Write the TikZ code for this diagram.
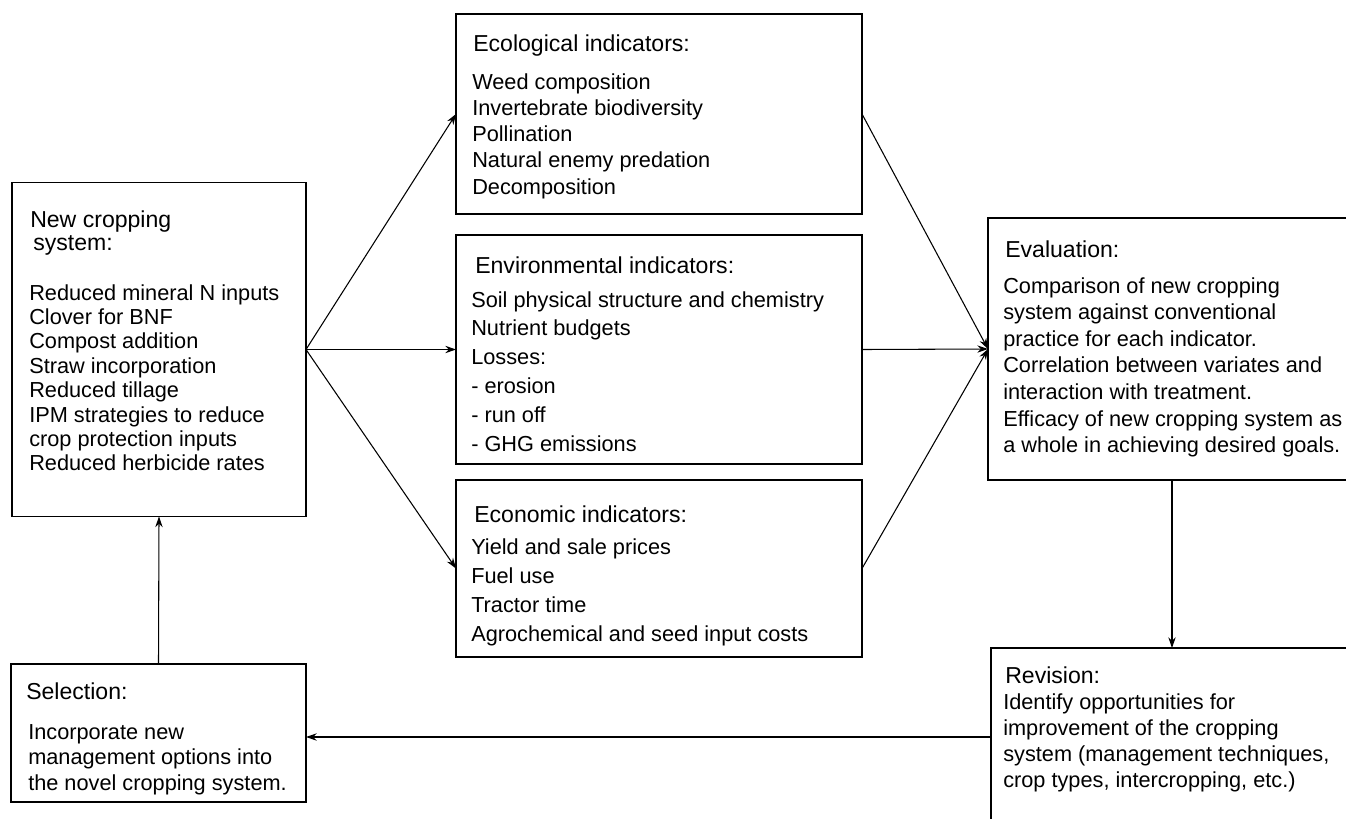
\documentclass[tikz,border=0pt]{standalone}
\usepackage{fontspec}
\setmainfont{Liberation Sans}
\usetikzlibrary{arrows.meta}
\tikzset{
  box/.style={draw, line width=1.2pt, inner sep=0pt, outer sep=0pt, rectangle},
  ttl/.style={font=\fontsize{17.3}{20}\selectfont, inner sep=0pt, anchor=base west},
  bdy/.style={font=\fontsize{16.3}{19}\selectfont, inner sep=0pt, anchor=base west},
  arr/.style={-{Stealth[length=8pt,width=5.5pt]}, line width=0.8pt},
}
\begin{document}
\begin{tikzpicture}[x=0.75pt,y=-0.75pt]
\useasboundingbox (0,0) rectangle (1346,818);
\clip (0,0) rectangle (1346,818);

% boxes
\node[box, minimum width=220.5pt, minimum height=250.5pt] (new) at (159,349.5) {};
\node[box, minimum width=304.5pt, minimum height=150pt] (eco) at (659,114) {};
\node[box, minimum width=304.5pt, minimum height=171.75pt] (env) at (659,349.5) {};
\node[box, minimum width=304.5pt, minimum height=132.75pt] (econ) at (659,568.5) {};
\node[box, minimum width=276pt, minimum height=196.5pt] (eval) at (1172,349) {};
\node[box, minimum width=271.5pt, minimum height=133.5pt] (rev) at (1172,737) {};
\node[box, minimum width=221.25pt, minimum height=103.5pt] (sel) at (158.5,733) {};

% New cropping system
\node[ttl] (newT1) at (30,227) {New cropping};
\node[ttl] (newT2) at (33,250) {system:};
\foreach \t [count=\i] in {Reduced mineral N inputs, Clover for BNF, Compost addition,
  Straw incorporation, Reduced tillage, IPM strategies to reduce,
  crop protection inputs, Reduced herbicide rates}
  \node[bdy] (new-\i) at (29,{300+(\i-1)*24.4}) {\t};

% Ecological
\node[ttl] (ecoT) at (473,51) {Ecological indicators:};
\foreach \t [count=\i] in {Weed composition, Invertebrate biodiversity, Pollination,
  Natural enemy predation, Decomposition}
  \node[bdy] (eco-\i) at (472,{89+(\i-1)*26.25}) {\t};

% Environmental
\node[ttl] (envT) at (475,273) {Environmental indicators:};
\foreach \t [count=\i] in {Soil physical structure and chemistry, Nutrient budgets, Losses:,
  - erosion, - run off, - GHG emissions}
  \node[bdy] (env-\i) at (471,{307+(\i-1)*28.8}) {\t};

% Economic
\node[ttl] (econT) at (474,522) {Economic indicators:};
\foreach \t [count=\i] in {Yield and sale prices, Fuel use, Tractor time,
  Agrochemical and seed input costs}
  \node[bdy] (econ-\i) at (471,{554+(\i-1)*29}) {\t};

% Evaluation
\node[ttl] (evalT) at (1005,257) {Evaluation:};
\foreach \t [count=\i] in {Comparison of new cropping, system against conventional,
  practice for each indicator., Correlation between variates and,
  interaction with treatment., Efficacy of new cropping system as,
  a whole in achieving desired goals.}
  \node[bdy] (eval-\i) at (1003,{293+(\i-1)*26.6}) {\t};

% Revision
\node[ttl] (revT) at (1005,683) {Revision:};
\foreach \t [count=\i] in {Identify opportunities for, improvement of the cropping,
  {system (management techniques,}, {crop types, intercropping, etc.)}}
  \node[bdy] (rev-\i) at (1003,{709+(\i-1)*26}) {\t};

% Selection
\node[ttl] (selT) at (26,699) {Selection:};
\foreach \t [count=\i] in {Incorporate new, management options into,
  the novel cropping system.}
  \node[bdy] (sel-\i) at (28,{739+(\i-1)*25.5}) {\t};

% connectors
\draw[arr] (new.east) -- (eco.west);
\draw[arr] (new.east) -- (env.west);
\draw[arr] (new.east) -- (econ.west);
\draw[arr] (eco.east) -- (eval.west);
\draw[arr] (env.east) -- (eval.west);
\draw[arr] (econ.east) -- (eval.west);
\draw[arr] (eval.south) -- (rev.north);
\draw[arr] (rev.west) -- (rev.west -| sel.east);
\draw[arr] (sel.north) -- (new.south);
\end{tikzpicture}
\end{document}
